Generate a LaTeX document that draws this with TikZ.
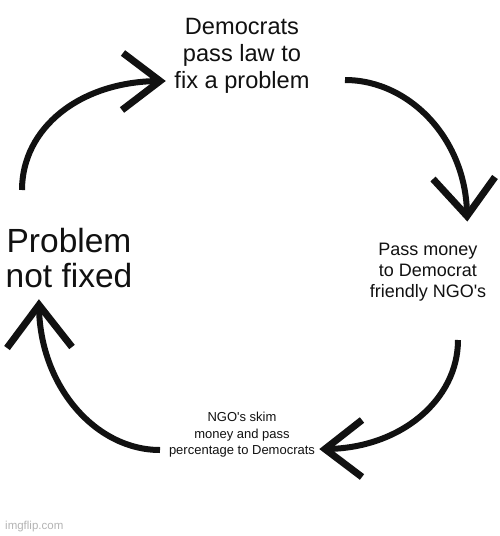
\documentclass[tikz,border=0pt]{standalone}
\usepackage{fontspec}
\setmainfont{Liberation Sans}
\definecolor{ink}{HTML}{111111}
\definecolor{wm}{HTML}{B4B4B4}
\begin{document}
\begin{tikzpicture}[x=1pt,y=-1pt,
  shaft/.style={line width=6pt, line cap=butt, draw=ink},
  head/.style={line width=7pt, line join=miter, line cap=butt, draw=ink},
  lbl/.style={inner sep=0pt, align=center, text=ink}]
\useasboundingbox (0,0) rectangle (500,536);
\fill[white] (0,0) rectangle (500,536);

% labels
\node[lbl, font=\fontsize{23.6}{27}\selectfont, anchor=north] (law) at (242,18) {Democrats\\pass law to\\fix a problem};
\node[lbl, font=\fontsize{18}{21}\selectfont, anchor=north] (money) at (428,243) {Pass money\\to Democrat\\friendly NGO\textquotesingle s};
\node[lbl, font=\fontsize{13}{16.5}\selectfont, anchor=north] (skim) at (242,412) {NGO\textquotesingle s skim\\money and pass\\percentage to Democrats};
\node[lbl, font=\fontsize{33.5}{35}\selectfont, anchor=north] (notfixed) at (69,228) {Problem\\not fixed};
\node[inner sep=0pt, anchor=base west, text=wm, font=\fontsize{11.5}{13}\selectfont] (wmark) at (5,529) {imgflip.com};

% arrow ends
\coordinate (a1s) at (22,190);   \coordinate (a1t) at (160,81);
\coordinate (a2s) at (345,80);   \coordinate (a2t) at (467,216);
\coordinate (a3s) at (458,340);  \coordinate (a3t) at (325,449);
\coordinate (a4s) at (160,450);  \coordinate (a4t) at (39,305);

% arrow 1: problem not fixed -> law
\draw[shaft] (a1s) .. controls (22,128) and (80,81) .. (a1t);
\draw[head] (123,53) -- (a1t) -- (122,110);
% arrow 2: law -> money
\draw[shaft] (a2s) .. controls (410,80) and (467,140) .. (a2t);
\draw[head] (433,179) -- (a2t) -- (495,177);
% arrow 3: money -> skim
\draw[shaft] (a3s) .. controls (458,400) and (400,449) .. (a3t);
\draw[head] (362,420) -- (a3t) -- (362,477);
% arrow 4: skim -> problem not fixed
\draw[shaft] (a4s) .. controls (95,450) and (39,385) .. (a4t);
\draw[head] (7,348) -- (a4t) -- (72,347);
\end{tikzpicture}
\end{document}
